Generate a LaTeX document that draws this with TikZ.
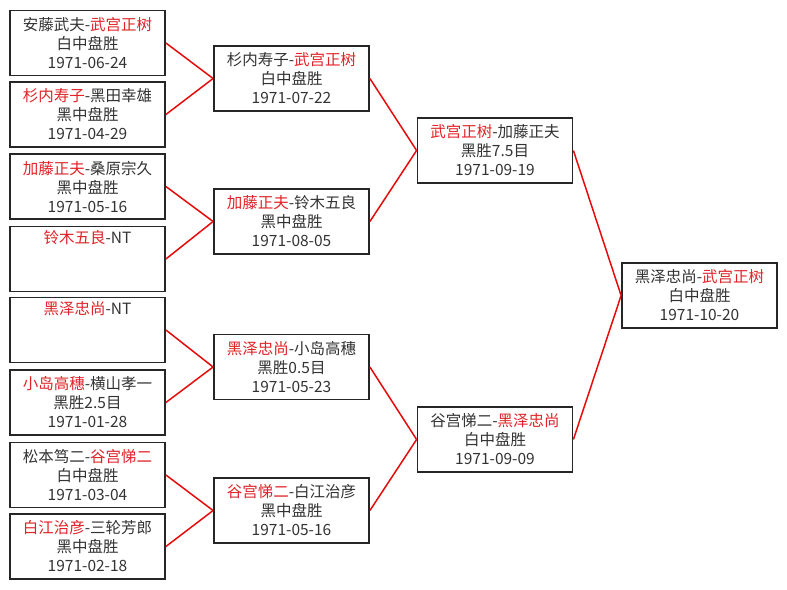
\documentclass[tikz,border=0pt]{standalone}
\usepackage{fontspec}
\newfontfamily\cjk{Noto Sans CJK SC}
\newcommand{\sg}[1]{\textcolor{sieger}{#1}}
\begin{document}
\begin{tikzpicture}[x=1pt,y=-1pt,
  spiel/.style={draw=black!85,line width=1.8pt,fill=white,minimum width=155pt,minimum height=65pt,inner sep=0pt,align=center,text=black!80,font=\cjk\fontsize{15.5}{19}\selectfont},
  linie/.style={draw=rotlinie,line width=1.5pt}]

\definecolor{sieger}{RGB}{225,35,40};
\definecolor{rotlinie}{RGB}{230,10,10};

\useasboundingbox[fill=white] (0,0) rectangle (787,589);

% erste Runde
\node[spiel] (m1) at (87.5,43)    {安藤武夫-\sg{武宫正树}\\白中盘胜\\1971-06-24};
\node[spiel] (m2) at (87.5,114.5) {\sg{杉内寿子}-黑田幸雄\\黑中盘胜\\1971-04-29};
\node[spiel] (m3) at (87.5,186.5) {\sg{加藤正夫}-桑原宗久\\黑中盘胜\\1971-05-16};
\node[spiel] (m4) at (87.5,259)   {\sg{铃木五良}-NT\\\strut\\\strut};
\node[spiel] (m5) at (87.5,330)   {\sg{黑泽忠尚}-NT\\\strut\\\strut};
\node[spiel] (m6) at (87.5,402.5) {\sg{小岛高穗}-横山孝一\\黑胜2.5目\\1971-01-28};
\node[spiel] (m7) at (87.5,475)   {松本笃二-\sg{谷宫悌二}\\白中盘胜\\1971-03-04};
\node[spiel] (m8) at (87.5,546.5) {\sg{白江治彦}-三轮芳郎\\黑中盘胜\\1971-02-18};

% Viertelfinale
\node[spiel] (q1) at (291.5,78.5) {杉内寿子-\sg{武宫正树}\\白中盘胜\\1971-07-22};
\node[spiel] (q2) at (291.5,221.5) {\sg{加藤正夫}-铃木五良\\黑中盘胜\\1971-08-05};
\node[spiel] (q3) at (291.5,367)   {\sg{黑泽忠尚}-小岛高穗\\黑胜0.5目\\1971-05-23};
\node[spiel] (q4) at (291.5,510.5) {\sg{谷宫悌二}-白江治彦\\黑中盘胜\\1971-05-16};

% Halbfinale
\node[spiel] (s1) at (495,150.5) {\sg{武宫正树}-加藤正夫\\黑胜7.5目\\1971-09-19};
\node[spiel] (s2) at (495,439.5) {谷宫悌二-\sg{黑泽忠尚}\\白中盘胜\\1971-09-09};

% Finale
\node[spiel] (f) at (699.5,295.5) {黑泽忠尚-\sg{武宫正树}\\白中盘胜\\1971-10-20};

\draw[linie] (m1.east) -- (q1.west);
\draw[linie] (m2.east) -- (q1.west);
\draw[linie] (m3.east) -- (q2.west);
\draw[linie] (m4.east) -- (q2.west);
\draw[linie] (m5.east) -- (q3.west);
\draw[linie] (m6.east) -- (q3.west);
\draw[linie] (m7.east) -- (q4.west);
\draw[linie] (m8.east) -- (q4.west);

\draw[linie] (q1.east) -- (s1.west);
\draw[linie] (q2.east) -- (s1.west);
\draw[linie] (q3.east) -- (s2.west);
\draw[linie] (q4.east) -- (s2.west);

\draw[linie] (s1.east) -- (f.west);
\draw[linie] (s2.east) -- (f.west);
\end{tikzpicture}
\end{document}
